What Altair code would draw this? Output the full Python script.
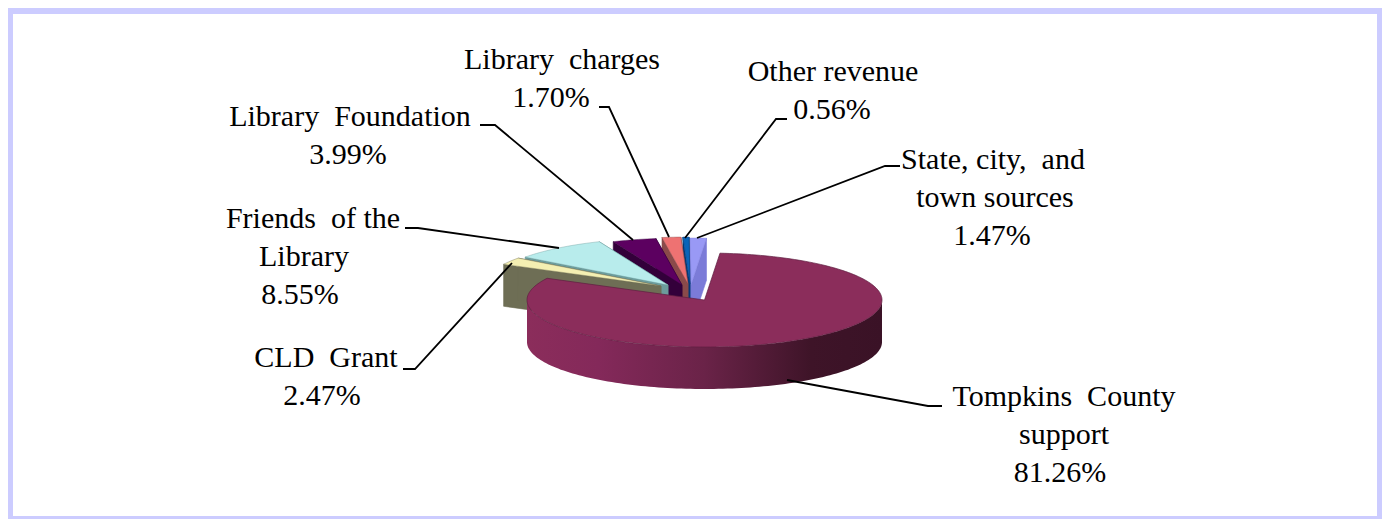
import math
import altair as alt
import pandas as pd

# ---- data ----
categories = ["Tompkins County support", "CLD Grant", "Friends of the Library",
              "Library Foundation", "Library charges", "Other revenue",
              "State, city, and town sources"]
shares = [81.26, 2.47, 8.55, 3.99, 1.70, 0.56, 1.47]
label_lines = [["Tompkins\u00a0\u00a0County", "support"], ["CLD\u00a0\u00a0Grant"],
               ["Friends\u00a0\u00a0of the", "Library"], ["Library\u00a0\u00a0Foundation"],
               ["Library\u00a0\u00a0charges"], ["Other revenue"],
               ["State, city,\u00a0\u00a0and", "town sources"]]

# ---- styles and layout ----
top_colors = ["#8B2D5B", "#F4EFB2", "#B8ECEC", "#5C0060", "#EE7272", "#0A64B8", "#9999F5"]
cut_colors = ["#8B2D5B", "#6E6E55", "#6C9C9C", "#33003A", "#8A4A4A", "#053A78", "#7B7BD8"]
tips = [(704.5, 300), (661, 286), (668, 285), (682, 285), (688, 284), (690, 284), (691, 285)]
RX, RY, DEPTH, START = 177.5, 47, 42, 5
label_y = [397, 358, 219, 117, 60, 72, 160]
label_x = [[1064, 1064, 1060], [326, 322], [313, 304, 300], [350, 348],
           [562, 551], [833, 832], [993, 995, 992]]
LINE = 38
leaders = [[(942, 406), (928, 406), (787, 380)], [(403, 369), (415, 369), (512, 263)],
           [(405, 228), (418, 228), (559, 248)], [(480, 125), (495, 125), (633, 240)],
           [(599, 107), (609, 107), (669, 237)], [(787, 119), (776, 119), (685, 238)],
           [(900, 166), (885, 166), (697, 238)]]

X = alt.X("x:Q", scale=alt.Scale(domain=[8, 1382], nice=False, zero=False), axis=None)
Y = alt.Y("y:Q", scale=alt.Scale(domain=[519, 8], nice=False, zero=False), axis=None)


def rim(tip, a0, a1, step=1.5):
    n = max(2, int(abs(a1 - a0) / step) + 1)
    out = []
    for k in range(n + 1):
        a = math.radians(a0 + (a1 - a0) * k / n)
        out.append((tip[0] + RX * math.sin(a), tip[1] - RY * math.cos(a)))
    return out


def polygon(pts, fill, stroke=None, width=0.6):
    pts = list(pts) + [pts[0]]
    df = pd.DataFrame({"x": [p[0] for p in pts], "y": [p[1] for p in pts], "i": range(len(pts))})
    return alt.Chart(df).mark_line(fill=fill, stroke=stroke or fill, strokeWidth=width,
                                   interpolate="linear").encode(x=X, y=Y, order="i:Q")


def band(x0, x1, y0, y1, color):
    df = pd.DataFrame({"x": [x0], "x2": [x1], "y": [y0], "y2": [y1]})
    return alt.Chart(df).mark_rect(color=color).encode(x=X, x2="x2:Q", y=Y, y2="y2:Q")


layers = [band(8, 1382, 8, 519, "#CCCCFF"), band(13, 1377, 14, 516, "#FFFFFF")]

# angular extents from the shares
edges = [START]
for s in shares:
    edges.append(edges[-1] + s * 3.6)

# exploded slices, back to front, then the main slice
for idx in [6, 5, 4, 3, 2, 1]:
    tip, a0, a1 = tips[idx], edges[idx], edges[idx + 1]
    r = rim(tip, a0, a1)
    for outer in (r[0], r[-1]):
        layers.append(polygon([tip, outer, (outer[0], outer[1] + DEPTH), (tip[0], tip[1] + DEPTH)],
                              cut_colors[idx]))
    layers.append(polygon([tip] + r, top_colors[idx], cut_colors[idx], 0.4))

# main slice: outer wall with shading
tip = tips[0]
front = [(tip[0] + RX * math.sin(math.radians(a)), tip[1] - RY * math.cos(math.radians(a)))
         for a in [270 - k * 1.5 for k in range(121)]]
wall = pd.DataFrame({"x": [p[0] for p in front], "y": [p[1] for p in front],
                     "y2": [p[1] + DEPTH for p in front]})
shade = alt.Gradient(gradient="linear", x1=0, x2=1, y1=0, y2=0, stops=[
    alt.GradientStop(color="#8B2D5B", offset=0),
    alt.GradientStop(color="#84295A", offset=0.2),
    alt.GradientStop(color="#6A2348", offset=0.5),
    alt.GradientStop(color="#3E1428", offset=0.8),
    alt.GradientStop(color="#3A1226", offset=1)])
layers.append(alt.Chart(wall).mark_area(color=shade, interpolate="linear")
              .encode(x=X, y=Y, y2="y2:Q"))
layers.append(polygon([tip] + rim(tip, edges[0], edges[1]), top_colors[0], "#5E1E40", 0.7))

# leader lines
rows = [{"x": p[0], "y": p[1], "i": j, "c": i} for i, l in enumerate(leaders) for j, p in enumerate(l)]
layers.append(alt.Chart(pd.DataFrame(rows)).mark_line(color="#000000", strokeWidth=1.8)
              .encode(x=X, y=Y, order="i:Q", detail="c:N"))

# labels
rows = []
for i, cat in enumerate(categories):
    lines = label_lines[i] + [f"{shares[i]:.2f}%"]
    for j, t in enumerate(lines):
        rows.append({"x": label_x[i][j], "y": label_y[i] + j * LINE, "t": t})
layers.append(alt.Chart(pd.DataFrame(rows)).mark_text(
    font="Liberation Serif", fontSize=30, color="#000000", align="center", baseline="middle")
    .encode(x=X, y=Y, text="t:N"))

chart = alt.layer(*layers).properties(
    width=1374, height=511, padding=0, autosize=alt.AutoSizeParams(type="none"),
    background="#FFFFFF"
).configure_view(stroke=None)

chart.save("out.html", embed_options={"renderer": "svg", "actions": False})
